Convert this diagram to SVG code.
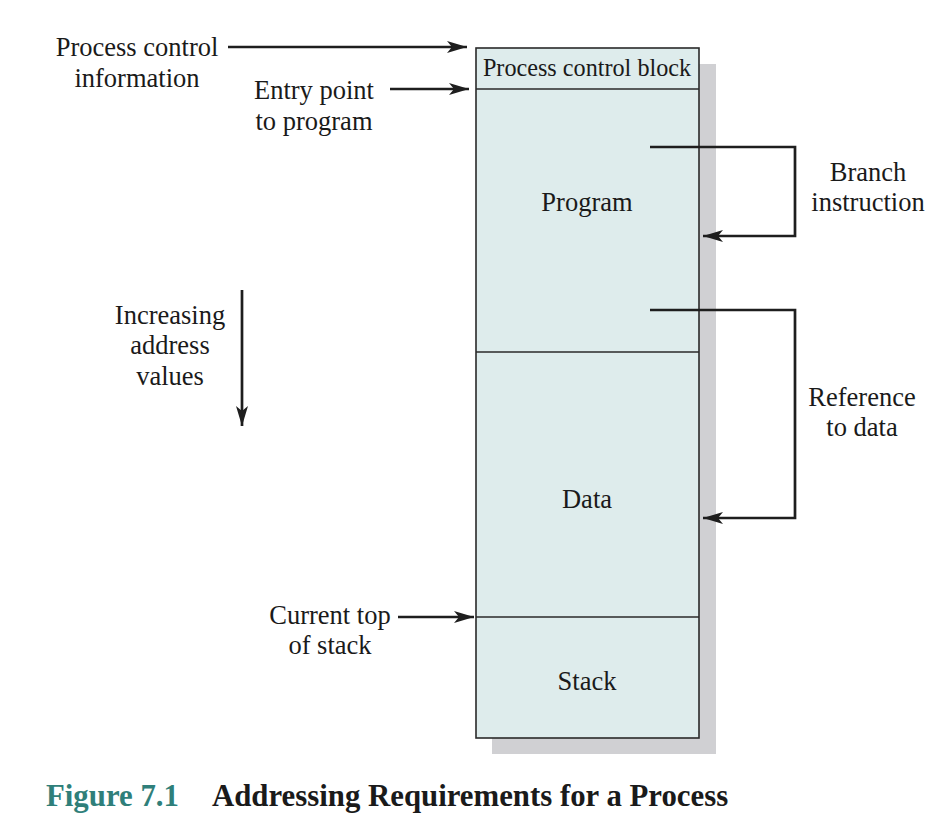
<svg xmlns="http://www.w3.org/2000/svg" width="946" height="830" viewBox="0 0 946 830">
<style>
  .t { font-family: "Liberation Serif", "Times New Roman", serif; font-size: 26.5px; fill: #1a1a1a; text-anchor: middle; }
  .pcb { font-size: 24.2px; }
  .box { fill: #deecec; stroke: #2a2a2a; stroke-width: 1.6; }
  .div { stroke: #2a2a2a; stroke-width: 1.6; }
  .shadow { fill: #d0d0d3; }
  .conn { fill: none; stroke: #1e1e1e; stroke-width: 2.7; }
  .cap { font-family: "Liberation Serif", "Times New Roman", serif; font-size: 30.8px; font-weight: bold; }
</style>
<defs>
  <marker id="ah" viewBox="0 0 20 12" refX="20" refY="6" markerWidth="20" markerHeight="12" markerUnits="userSpaceOnUse" orient="auto">
    <path d="M0,0 L20,6 L0,12 L5,6 Z" fill="#1e1e1e"/>
  </marker>
</defs>
<rect width="946" height="830" fill="#ffffff"/>
<g id="memory">
  <rect class="shadow" x="492" y="64" width="224" height="690"/>
  <rect class="box" x="476" y="48" width="223" height="690"/>
</g>
<g id="pcb">
  <line class="div" x1="476" y1="89" x2="699" y2="89"/>
  <text class="t pcb" x="587" y="76">Process control block</text>
</g>
<g id="program">
  <line class="div" x1="476" y1="352" x2="699" y2="352"/>
  <text class="t" x="587" y="211">Program</text>
</g>
<g id="data">
  <line class="div" x1="476" y1="617" x2="699" y2="617"/>
  <text class="t" x="587" y="508">Data</text>
</g>
<g id="stack">
  <text class="t" x="587" y="690">Stack</text>
</g>
<g id="labels">
  <text class="t" x="137" y="56">Process control</text>
  <text class="t" x="137" y="87">information</text>
  <text class="t" x="314" y="99">Entry point</text>
  <text class="t" x="314" y="130">to program</text>
  <text class="t" x="868" y="181">Branch</text>
  <text class="t" x="868" y="211">instruction</text>
  <text class="t" x="170" y="324">Increasing</text>
  <text class="t" x="170" y="354">address</text>
  <text class="t" x="170" y="385">values</text>
  <text class="t" x="862" y="406">Reference</text>
  <text class="t" x="862" y="436">to data</text>
  <text class="t" x="330" y="624">Current top</text>
  <text class="t" x="330" y="654">of stack</text>
</g>
<g id="connectors">
  <line class="conn" x1="228" y1="47" x2="467" y2="47" marker-end="url(#ah)"/>
  <line class="conn" x1="390" y1="89" x2="469" y2="89" marker-end="url(#ah)"/>
  <line class="conn" x1="398" y1="617" x2="474" y2="617" marker-end="url(#ah)"/>
  <line class="conn" x1="242" y1="290" x2="242" y2="426" marker-end="url(#ah)"/>
  <polyline class="conn" points="650,147 795,147 795,236 703,236" marker-end="url(#ah)"/>
  <polyline class="conn" points="650,310 795,310 795,518 703,518" marker-end="url(#ah)"/>
</g>
<g id="caption">
  <text class="cap" x="46" y="806" fill="#2f7f7a">Figure 7.1</text>
  <text class="cap" x="212" y="806" fill="#1a1a1a">Addressing Requirements for a Process</text>
</g>
</svg>
